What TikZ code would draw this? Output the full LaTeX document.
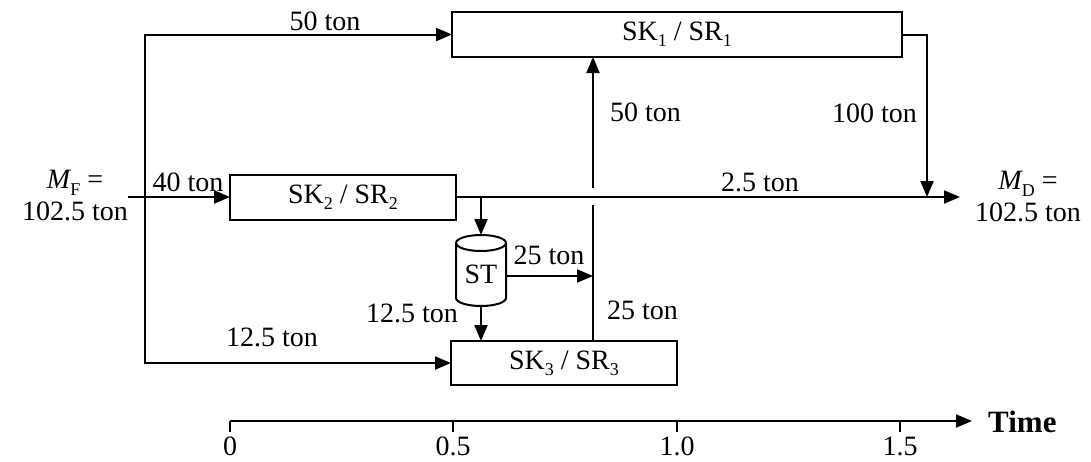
\documentclass[tikz,border=0pt]{standalone}
\usepackage{fontspec}
\setmainfont{Liberation Serif}
\usetikzlibrary{arrows.meta}
\newcommand{\subtx}[1]{\raisebox{-0.22em}{\fontsize{18}{18}\selectfont #1}}
\begin{document}
\begin{tikzpicture}[x=1pt,y=-1pt,
  every node/.style={font=\fontsize{28}{32}\selectfont, inner sep=0pt},
  flow/.style={line width=2pt},
  arr/.style={flow, -{Triangle[length=16pt,width=13pt]}},
  biarr/.style={flow, {Triangle[length=16pt,width=13pt]}-{Triangle[length=16pt,width=13pt]}},
  unit/.style={draw, line width=2.4pt, minimum height=45pt, outer sep=0pt},
]
\useasboundingbox (0,0) rectangle (1091,461);

% process units
\node[unit, minimum width=450pt] (sk1) at (677,34.5) {SK\subtx{1} / SR\subtx{1}};
\node[unit, minimum width=226pt] (sk2) at (343,197.5) {SK\subtx{2} / SR\subtx{2}};
\node[unit, minimum width=226pt, minimum height=44pt] (sk3) at (564,363) {SK\subtx{3} / SR\subtx{3}};

% storage tank
\node (st) at (481,274) {ST};
\draw[line width=2pt] (481,243) ellipse [x radius=25, y radius=8];
\draw[line width=2pt] (456,243) -- (456,298) arc[start angle=180, end angle=0, x radius=25, y radius=8] -- (506,243);
\coordinate (sttop) at (481,235);
\coordinate (stbot) at (481,306);
\coordinate (stright) at (506,276);

% helper coordinates
\coordinate (lx) at (145,0);
\coordinate (vx) at (593,0);
\coordinate (fin) at (128,197);
\coordinate (fout) at (960,197);
\coordinate (rx) at (927,197);
\coordinate (gaplo) at (593,205);
\coordinate (gaphi) at (593,188);

% feed split
\draw[biarr] (sk1.west) -- (lx |- sk1.west) -- (lx |- sk3.west) -- (sk3.west);
\draw[arr] (fin) -- (sk2.west |- fin);

% product line
\draw[arr] (sk2.east |- fout) -- (fout);
\draw[arr] (sk1.east) -| (rx);

% storage connections
\draw[arr] (sttop |- fout) -- (sttop);
\draw[arr] (stbot) -- (stbot |- sk3.north);
\draw[arr] (stright) -- (vx |- stright);

% transfer SK3 -> SK1, crossing the product line
\draw[flow] (vx |- sk3.north) -- (gaplo);
\draw[arr] (gaphi) -- (vx |- sk1.south);

% flow labels
\node (l50a) at (325,21) {50 ton};
\node[anchor=west] (l50b) at (610,112) {50 ton};
\node[anchor=east] (l100) at (917,113) {100 ton};
\node (l40) at (188,182) {40 ton};
\node (l25) at (760,182) {2.5 ton};
\node (l25a) at (549,255) {25 ton};
\node[anchor=west] (l25b) at (607,310) {25 ton};
\node (l125a) at (412,313) {12.5 ton};
\node (l125b) at (272,337) {12.5 ton};

\node[align=center] (mf) at (75,196) {{\itshape M}\subtx{F} =\\102.5 ton};
\node[align=center] (md) at (1028,197) {{\itshape M}\subtx{D} =\\102.5 ton};

% time axis
\coordinate (ax0) at (230,421);
\coordinate (ax1) at (972,421);
\draw[arr] (ax0) -- (ax1);
\node[anchor=west, font=\fontsize{31}{34}\selectfont\bfseries] (time) at (988,422) {Time};
\foreach \xx/\lab in {230/0, 453/0.5, 677/1.0, 900/1.5} {
  \draw[flow] (\xx,421) -- (\xx,432);
  \node (tick\xx) at (\xx,446) {\lab};
}
\end{tikzpicture}
\end{document}
